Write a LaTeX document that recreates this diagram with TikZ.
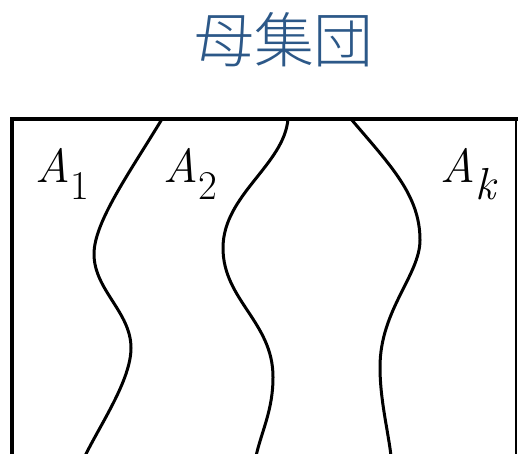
\documentclass[tikz,border=0pt]{standalone}
\usepackage{fontspec}
\newfontfamily\jpfont{Noto Sans CJK JP Light}
\definecolor{titleblue}{RGB}{44,88,136}
\newcommand{\lowidx}[2][41]{\kern1bp\raisebox{-17bp}{\fontsize{#1}{#1}\selectfont #2}}
\tikzset{
  border/.style={line width=4bp,draw=black},
  split/.style={line width=3bp,draw=black},
  setlbl/.style={inner sep=0pt,anchor=base west,font=\fontsize{48}{58}\selectfont}
}

\begin{document}
\begin{tikzpicture}[x=1bp,y=-1bp]

  \useasboundingbox (0,0) rectangle (518,454);
  \clip (0,0) rectangle (518,454);

  % Title
  \node[font=\jpfont\fontsize{60}{70}\selectfont,text=titleblue] (title) at (284,40) {母集団};

  % Frame
  \draw[border] (12,470) -- (12,119) -- (518,119);
  \draw[line width=1.8bp] (516,119) -- (516,470);

  % Boundaries between subsets
  \draw[split] (162,119) .. controls (130,172) and (94,222) .. (94,254)
    .. controls (94,290) and (131,312) .. (131,348)
    .. controls (131,380) and (100,425) .. (85,456);
  \draw[split] (288,119) .. controls (284,165) and (223,195) .. (223,248)
    .. controls (223,300) and (273,322) .. (273,377)
    .. controls (273,410) and (262,430) .. (256,456);
  \draw[split] (351,119) .. controls (390,165) and (420,195) .. (420,240)
    .. controls (420,275) and (380,310) .. (380,367)
    .. controls (380,400) and (388,430) .. (391,456);

  % Labels
  \node[setlbl] (a1) at (35,183) {\textit{A}\lowidx{1}};
  \node[setlbl] (a2) at (163,183) {\textit{A}\lowidx{2}};
  \node[setlbl] (ak) at (440,183) {\textit{A}\lowidx[45]{\textit{k}}};

\end{tikzpicture}
\end{document}
